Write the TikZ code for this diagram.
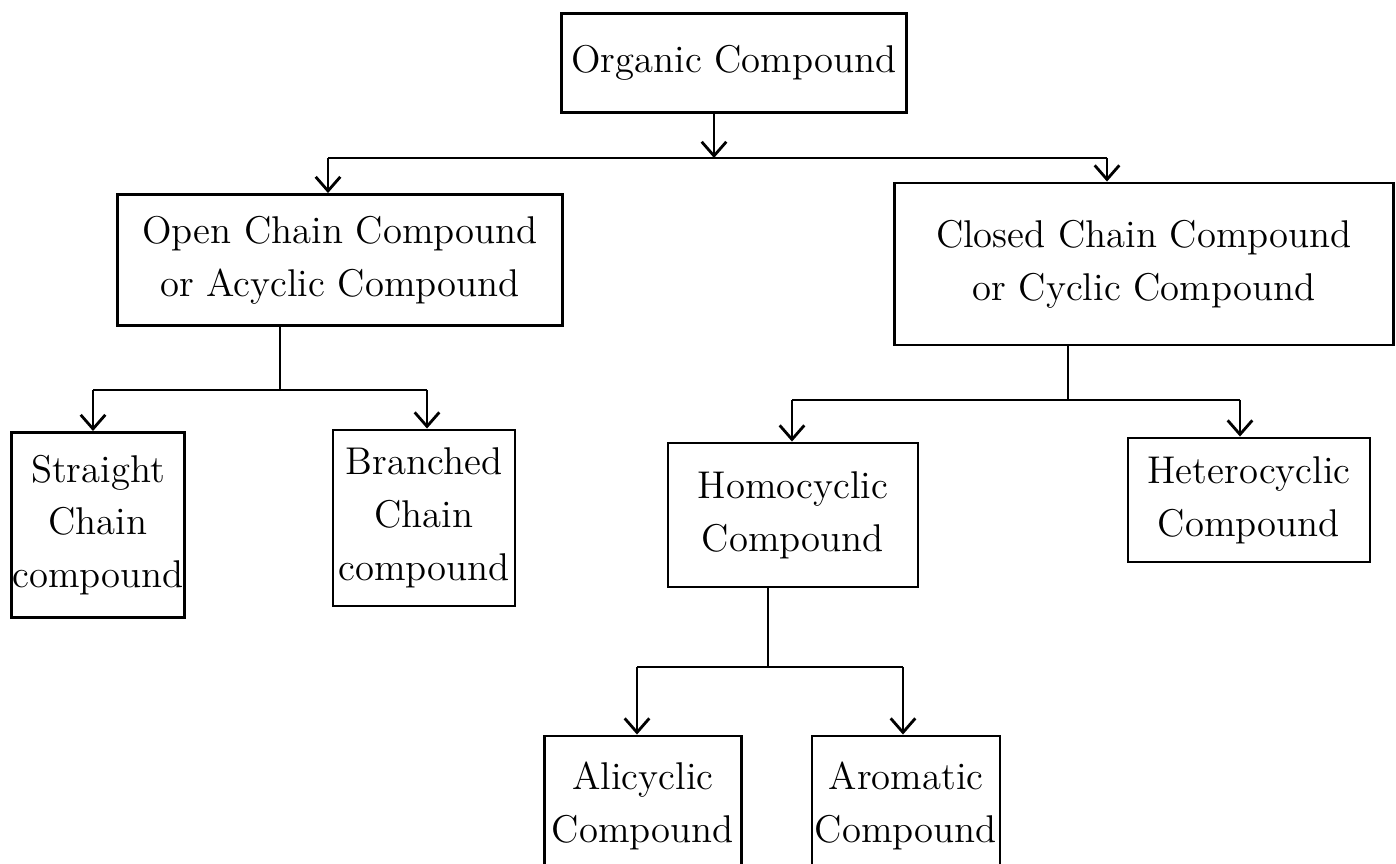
\documentclass[tikz,border=0pt]{standalone}
\usetikzlibrary{arrows.meta}
\begin{document}
\begin{tikzpicture}[x=0.01cm,y=-0.01cm,
  box/.style={draw, line width=0.8pt, align=center, inner sep=0pt,
    font=\fontsize{11}{15}\selectfont},
  conn/.style={line width=0.8pt},
  arr/.style={conn,-{Straight Barb[length=4pt,width=7pt]}}]
\useasboundingbox (0,0) rectangle (1396,864);
% nodes
\node[box, minimum width=3.45cm, minimum height=0.99cm] (org) at (734,63) {Organic Compound};
\node[box, minimum width=4.45cm, minimum height=1.31cm] (open) at (340,260) {Open Chain Compound\\or Acyclic Compound};
\node[box, minimum width=4.98cm, minimum height=1.62cm] (closed) at (1144,264) {Closed Chain Compound\\or Cyclic Compound};
\node[box, minimum width=1.73cm, minimum height=1.85cm] (straight) at (98,525) {Straight\\Chain\\compound};
\node[box, minimum width=1.82cm, minimum height=1.76cm] (branched) at (424,518) {Branched\\Chain\\compound};
\node[box, minimum width=2.50cm, minimum height=1.44cm] (homo) at (793,515) {Homocyclic\\Compound};
\node[box, minimum width=2.42cm, minimum height=1.24cm] (hetero) at (1249,500) {Heterocyclic\\Compound};
\node[box, minimum width=1.97cm, minimum height=1.40cm] (ali) at (643,806) {Alicyclic\\Compound};
\node[box, minimum width=1.88cm, minimum height=1.40cm] (arom) at (906,806) {Aromatic\\Compound};
% junction coordinates
\coordinate (j1) at (714,158);
\coordinate (a1) at (328,158);
\coordinate (b1) at (1107,158);
\coordinate (j2) at (280,390);
\coordinate (a2) at (93,390);
\coordinate (b2) at (427,390);
\coordinate (j3) at (1068,400);
\coordinate (a3) at (792,400);
\coordinate (b3) at (1240,400);
\coordinate (j4) at (768,667);
\coordinate (a4) at (637,667);
\coordinate (b4) at (903,667);
% level 1
\draw[arr] (j1 |- org.south) -- (j1);
\draw[conn] (a1) -- (b1);
\draw[arr] (a1) -- (a1 |- open.north);
\draw[arr] (b1) -- (b1 |- closed.north);
% level 2 left
\draw[conn] (j2 |- open.south) -- (j2);
\draw[conn] (a2) -- (b2);
\draw[arr] (a2) -- (a2 |- straight.north);
\draw[arr] (b2) -- (b2 |- branched.north);
% level 2 right
\draw[conn] (j3 |- closed.south) -- (j3);
\draw[conn] (a3) -- (b3);
\draw[arr] (a3) -- (a3 |- homo.north);
\draw[arr] (b3) -- (b3 |- hetero.north);
% level 3
\draw[conn] (j4 |- homo.south) -- (j4);
\draw[conn] (a4) -- (b4);
\draw[arr] (a4) -- (a4 |- ali.north);
\draw[arr] (b4) -- (b4 |- arom.north);
\end{tikzpicture}
\end{document}
